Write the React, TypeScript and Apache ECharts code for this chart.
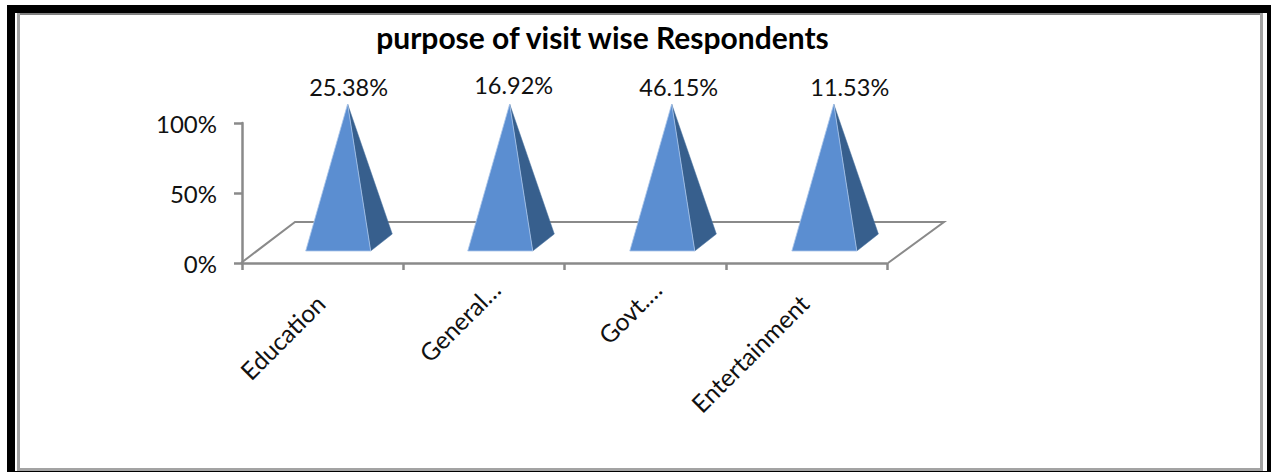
import React, { useEffect, useRef } from "react";
import * as echarts from "echarts";

const titleText = "purpose of visit wise Respondents";
const categories = ["Education", "General…", "Govt.…", "Entertainment"];
// Each 100% stacked column holds one series, so it always reaches the top of the axis.
const respondentShares = [25.38, 16.92, 46.15, 11.53];
const stackTotals = [25.38, 16.92, 46.15, 11.53];
const axisTicks = [0, 50, 100];

const GREY = "#8a8a8a";
const FONT = "Lato, 'Open Sans', sans-serif";
const labelNudge = [
  [1, 0],
  [4, -2],
  [7, 0],
  [16, 0],
];
const categoryPadding = [
  [0, 3, 0, 0],
  [13, -17, 0, 0],
  [13, -17, 0, 0],
  [0, 3, 0, 0],
];

const frameRects = [
  { x: 7, y: 5, w: 1264, h: 8, fill: "#000" },
  { x: 7, y: 5, w: 8, h: 467, fill: "#000" },
  { x: 1267, y: 5, w: 4, h: 467, fill: "#000" },
  { x: 7, y: 471, w: 1264, h: 1, fill: "#000" },
  { x: 17, y: 13, w: 1246, h: 2, fill: "#808080" },
  { x: 17, y: 13, w: 3, h: 458, fill: "#a3a3a3" },
  { x: 1260, y: 13, w: 3, h: 458, fill: "#a3a3a3" },
  { x: 17, y: 468, w: 1246, h: 3, fill: "#a3a3a3" },
];

function renderPyramid(params: any, api: any) {
  const i = api.value(0);
  const [bandCentre, top] = api.coord([i, api.value(1)]);
  const [, floor] = api.coord([i, 0]);
  const band = api.size([1, 0])[0];
  // The perspective spreads the pyramids slightly wider than the axis bands.
  const cx = bandCentre + i * 0.8;
  const baseY = floor - 12;
  const leftX = cx - band * 0.105;
  const ridgeX = cx + band * 0.298;
  const backX = cx + band * 0.432;
  const backY = baseY - 17;
  const apex = [cx + band * 0.155, top - 19];
  return {
    type: "group",
    children: [
      {
        type: "polygon",
        shape: { points: [apex, [ridgeX, baseY], [backX, backY]] },
        style: { fill: "#375f8d", stroke: "#4a74a3", lineWidth: 0.5 },
      },
      {
        type: "polygon",
        shape: { points: [apex, [leftX, baseY], [ridgeX, baseY]] },
        style: { fill: "#5b8ed1", stroke: "#a9c5ea", lineWidth: 0.8 },
      },
      {
        type: "text",
        style: {
          x: apex[0] + labelNudge[i][0],
          y: top - 36 + labelNudge[i][1],
          text: `${respondentShares[i].toFixed(2)}%`,
          fill: "#111",
          font: `23.5px ${FONT}`,
          textAlign: "center",
          textVerticalAlign: "middle",
        },
      },
    ],
  };
}

export default function App() {
  const ref = useRef<HTMLDivElement>(null);

  useEffect(() => {
    const chart = echarts.init(ref.current!, undefined, { renderer: "svg" });
    chart.setOption({
      animation: false,
      backgroundColor: "#fff",
      title: {
        text: titleText,
        left: 597.5,
        top: 17,
        textAlign: "center",
        textStyle: { fontFamily: FONT, fontWeight: "bold", fontSize: 30, color: "#000" },
      },
      grid: { left: 242, top: 123, width: 645, height: 140 },
      xAxis: {
        type: "category",
        data: categories.map((value, i) => ({ value, textStyle: { padding: categoryPadding[i] } })),
        axisLine: { lineStyle: { color: GREY, width: 2.5 } },
        axisTick: { show: true, alignWithLabel: false, length: 7, lineStyle: { color: GREY, width: 2.5 } },
        axisLabel: {
          rotate: 45,
          interval: 0,
          margin: 34,
          color: "#111",
          fontFamily: FONT,
          fontSize: 24.5,
        },
      },
      yAxis: {
        type: "value",
        min: axisTicks[0],
        max: axisTicks[axisTicks.length - 1],
        interval: axisTicks[1],
        splitLine: { show: false },
        axisLine: { show: true, lineStyle: { color: GREY, width: 2.5 } },
        axisTick: { show: true, length: 8, lineStyle: { color: GREY, width: 2.5 } },
        axisLabel: {
          margin: 25,
          color: "#111",
          fontFamily: FONT,
          fontSize: 24,
          formatter: (v: number) => `${v}%`,
        },
      },
      series: [
        {
          type: "custom",
          renderItem: renderPyramid,
          clip: false,
          data: respondentShares.map((v, i) => [i, (v / stackTotals[i]) * 100]),
        },
      ],
      graphic: [
        ...frameRects.map((r) => ({
          type: "rect",
          shape: { x: r.x, y: r.y, width: r.w, height: r.h },
          style: { fill: r.fill },
          silent: true,
        })),
        // Floor of the 3D plot, drawn behind the pyramids.
        {
          type: "polyline",
          z: 0,
          shape: { points: [[241, 263], [295, 222], [944, 222], [888, 263]] },
          style: { stroke: GREY, lineWidth: 2, fill: "none" },
          silent: true,
        },
      ],
    });
    return () => chart.dispose();
  }, []);

  return <div ref={ref} style={{ position: "fixed", left: 0, top: 0, width: 1271, height: 472 }} />;
}
